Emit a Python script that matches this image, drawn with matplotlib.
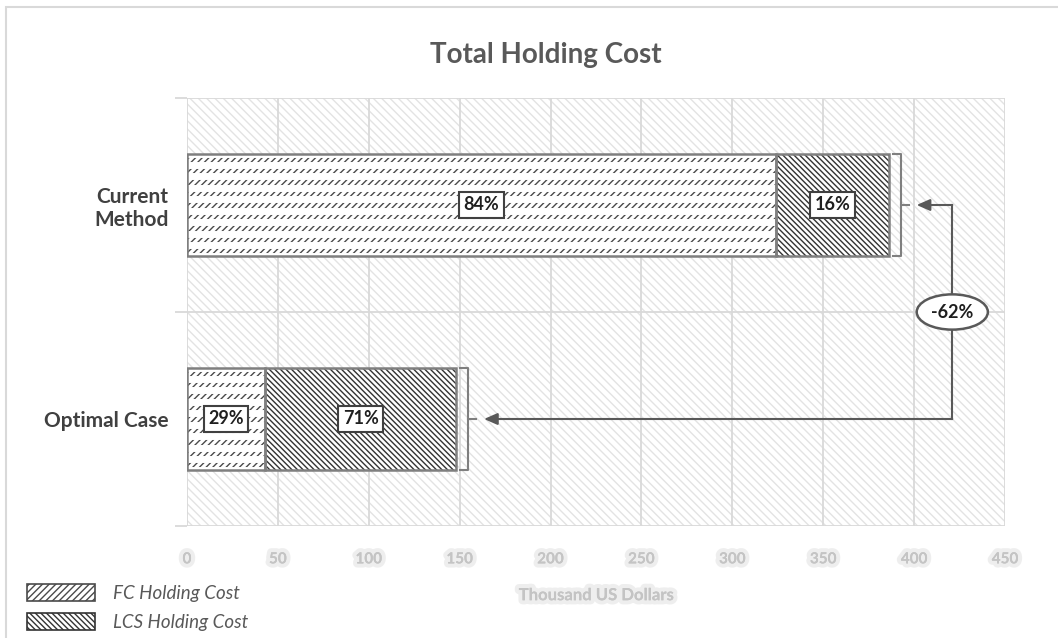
import matplotlib
matplotlib.use("Agg")
import matplotlib.pyplot as plt
import matplotlib.patheffects as pe
from matplotlib.patches import Rectangle
import numpy as np

# data (thousand US dollars)
categories = ["Optimal Case", "Current Method"]
cat_labels = ["Optimal Case", "Current\nMethod"]
fc_cost = [43, 324]
lcs_cost = [105, 62]
series_names = ["FC Holding Cost", "LCS Holding Cost"]
x_ticks = [0, 50, 100, 150, 200, 250, 300, 350, 400, 450]

plt.rcParams["font.family"] = ["Lato", "DejaVu Sans"]
plt.rcParams["hatch.linewidth"] = 1.0

TXT = "#404040"
GRID = "#d9d9d9"
OUTLINE = "#7f7f7f"

fig = plt.figure(figsize=(10.58, 6.38), dpi=100)
ax = fig.add_axes([187 / 1058, 1 - 526 / 638, 818 / 1058, 428 / 638])

y = np.arange(len(categories))
h = 0.48
fc = np.array(fc_cost)
lcs = np.array(lcs_cost)
tot = fc + lcs

# light hatched plot area
ax.add_patch(Rectangle((0, 0), 1, 1, transform=ax.transAxes, facecolor="white",
                       edgecolor="#e3e3e3", hatch="\\" * 4, lw=0, zorder=0.2))

# FC segment: short diagonal strokes in rows
fc_bars = ax.barh(y, fc, height=h, color="white", edgecolor="#4a4a4a",
                  hatch="/" * 5, lw=0, zorder=2)
for b in fc_bars:
    y0, y1 = b.get_y(), b.get_y() + b.get_height()
    rows = np.linspace(y0, y1, 10)
    ln = ax.hlines(rows, b.get_x(), b.get_x() + b.get_width(), color="white",
                   lw=5, zorder=2.1)
    ln.set_clip_path(b)
ax.barh(y, fc, height=h, fill=False, edgecolor=OUTLINE, lw=1.8, zorder=3)

# LCS segment: dense dark diagonal
ax.barh(y, lcs, left=fc, height=h, color="white", edgecolor="#333333",
        hatch="\\" * 6, lw=0, zorder=2)
ax.barh(y, lcs, left=fc, height=h, fill=False, edgecolor=OUTLINE, lw=1.8, zorder=3)

# share labels
box = dict(boxstyle="square,pad=0.25", fc="white", ec=TXT, lw=1.5)
for i in range(len(categories)):
    ax.text(fc[i] / 2, y[i], f"{fc[i] / tot[i]:.0%}", ha="center", va="center",
            fontsize=13, fontweight="bold", color="#1f1f1f", bbox=box, zorder=5)
    ax.text(fc[i] + lcs[i] / 2, y[i], f"{lcs[i] / tot[i]:.0%}", ha="center",
            va="center", fontsize=13, fontweight="bold", color="#1f1f1f",
            bbox=box, zorder=5)

# brackets + connector arrow
arrow_x = 421
for i in range(len(categories)):
    x0 = tot[i] + 2.2
    x1 = x0 + 4.4
    top, bot = y[i] + h / 2, y[i] - h / 2
    ax.plot([x0, x1, x1, x0], [top, top, bot, bot], color=OUTLINE, lw=1.5,
            zorder=4)
    ax.plot([x1, x1 + 4.4], [y[i], y[i]], color=OUTLINE, lw=1.5, zorder=4)
    ax.annotate("", xy=(x1 + 8.8, y[i]), xytext=(arrow_x, y[i]),
                arrowprops=dict(arrowstyle="-|>,head_length=0.8,head_width=0.35",
                                color="#595959", lw=1.5, shrinkA=0, shrinkB=0),
                zorder=4)
ax.plot([arrow_x, arrow_x], [y[0], y[1]], color="#595959", lw=1.5, zorder=4)
change = tot[0] / tot[1] - 1
ax.text(arrow_x, 0.5, f"{change:.0%}", ha="center", va="center", fontsize=13,
        fontweight="bold", color="#1f1f1f", zorder=6,
        bbox=dict(boxstyle="ellipse,pad=0.22", fc="white", ec="#595959", lw=1.8))

# axes styling
ax.set_xlim(0, 450)
ax.set_ylim(-0.5, 1.5)
ax.set_xticks(x_ticks)
ax.set_yticks(y)
ax.set_yticklabels(cat_labels, fontsize=15, fontweight="bold", color=TXT,
                   multialignment="center")
ax.set_yticks([-0.5, 0.5, 1.5], minor=True)
ax.tick_params(axis="y", which="major", length=0, pad=13)
ax.tick_params(axis="y", which="minor", length=9, color=GRID, width=1.3)
ax.tick_params(axis="x", length=0, pad=19, labelsize=11, labelcolor="#c4c4c4")
ax.grid(axis="x", color=GRID, lw=1.3, zorder=0.5)
ax.grid(axis="y", which="minor", color=GRID, lw=1.3, zorder=0.5)
for s in ax.spines.values():
    s.set_visible(False)
blur = [pe.withStroke(linewidth=6, foreground="#e8e8e8", alpha=0.7), pe.Normal()]
for t in ax.get_xticklabels():
    t.set_fontweight("bold")
    t.set_path_effects(blur)
ax.set_xlabel("Thousand US Dollars", fontsize=12, fontweight="bold",
              color="#c4c4c4", labelpad=15, path_effects=blur)

fig.text(546 / 1058, 1 - 55 / 638, "Total Holding Cost", ha="center", va="center",
         fontsize=20, fontweight="bold", color="#595959")

# legend
handles = [Rectangle((0, 0), 1, 1, fc="white", ec="#4a4a4a", hatch="/" * 5, lw=1.2),
           Rectangle((0, 0), 1, 1, fc="white", ec="#333333", hatch="\\" * 6, lw=1.2)]
fig.legend(handles, series_names, loc="upper left",
           bbox_to_anchor=(27 / 1058, 1 - 584 / 638), frameon=False,
           prop=dict(style="italic", size=13.5), labelcolor="#595959",
           handlelength=3.6, handleheight=1.0, handletextpad=1.0,
           labelspacing=0.6, borderpad=0, borderaxespad=0)

# chart frame
fig.patches.append(Rectangle((6 / 1058, -0.1), 1.2, 1 - 7 / 638 + 0.1,
                             transform=fig.transFigure, fill=False,
                             ec="#d9d9d9", lw=1.5))

fig.savefig("out.png", dpi=100)
